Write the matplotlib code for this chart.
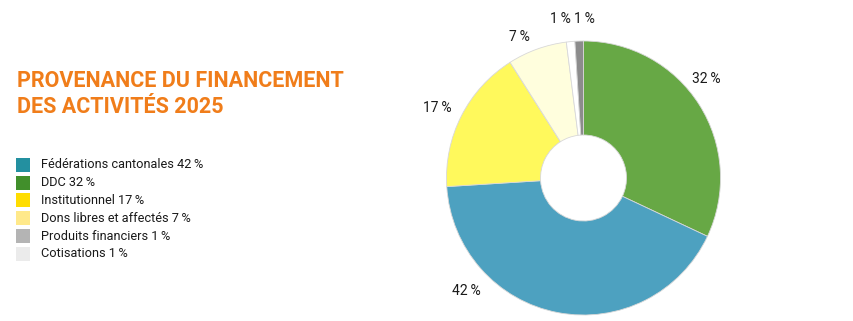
import matplotlib
matplotlib.use("Agg")
import matplotlib.pyplot as plt
import numpy as np
from matplotlib.patches import Rectangle
from matplotlib import font_manager

# Data
categories = ["Fédérations cantonales", "DDC", "Institutionnel",
              "Dons libres et affectés", "Produits financiers", "Cotisations"]
values = [42, 32, 17, 7, 1, 1]
legend_colors = ["#2390A0", "#418F2B", "#FFDD00", "#FFE98A", "#B4B4B4", "#EBEBEB"]

# pie order (clockwise from top)
pie_order = ["DDC", "Fédérations cantonales", "Institutionnel",
             "Dons libres et affectés", "Cotisations", "Produits financiers"]
pie_colors = {"DDC": "#67A845", "Fédérations cantonales": "#4DA1C0",
              "Institutionnel": "#FFF95C", "Dons libres et affectés": "#FFFEDD",
              "Cotisations": "#FFFFFF", "Produits financiers": "#8C8C8C"}
# label placement (angle deg, radius) per slice, layout only
label_pos = {"DDC": (39, 1.15), "Fédérations cantonales": (224, 1.19),
             "Institutionnel": (154.5, 1.18), "Dons libres et affectés": (114.6, 1.13),
             "Cotisations": (98.2, 1.17), "Produits financiers": (89.6, 1.16)}

names = {f.name for f in font_manager.fontManager.ttflist}
narrow = "Liberation Sans Narrow" if "Liberation Sans Narrow" in names else "Roboto"
font = "Roboto"

W, H = 854, 321
fig = plt.figure(figsize=(W / 100, H / 100), dpi=100)
fig.patch.set_facecolor("white")

title_color = "#F07D1A"
tsize = 18 if narrow != "Roboto" else 15.5
fig.text(17 / W, 1 - 81 / H, "PROVENANCE DU FINANCEMENT", color=title_color,
         fontsize=tsize, fontweight="bold", family=narrow, va="center", ha="left")
fig.text(17 / W, 1 - 107 / H, "DES ACTIVITÉS 2025", color=title_color,
         fontsize=tsize, fontweight="bold", family=narrow, va="center", ha="left")

# legend
row_y = [165, 182.5, 200, 218, 236, 253.5]
for cat, col, y in zip(categories, legend_colors, row_y):
    fig.patches.append(Rectangle((16 / W, 1 - (y + 7) / H), 14 / W, 14 / H,
                                 transform=fig.transFigure, facecolor=col,
                                 edgecolor="none"))
    v = values[categories.index(cat)]
    fig.text(41 / W, 1 - y / H, f"{cat} {v}\u2009%", fontsize=9.2, family=font,
             color="#1a1a1a", va="center", ha="left")

# pie
cx, cy, r = 583.5, 178, 137
half = 150
ax = fig.add_axes([(cx - half) / W, (H - cy - half) / H, 2 * half / W, 2 * half / H])

pvals = [values[categories.index(c)] for c in pie_order]
pcols = [pie_colors[c] for c in pie_order]
wedges, _ = ax.pie(pvals, colors=pcols, startangle=90, counterclock=False,
                   radius=1.0, wedgeprops=dict(width=1 - 43 / 137,
                                               edgecolor="#d8d8d8", linewidth=0.6))
ax.set_xlim(-half / r, half / r)
ax.set_ylim(-half / r, half / r)
ax.set_aspect("auto")
ax.axis("off")

for c, v in zip(pie_order, pvals):
    a, d = label_pos[c]
    x, y = d * np.cos(np.radians(a)), d * np.sin(np.radians(a))
    ax.text(x, y, f"{v}\u2009%", fontsize=10, family=font, color="#1a1a1a",
            ha="center", va="center")

fig.savefig("out.png", dpi=100, facecolor="white")
